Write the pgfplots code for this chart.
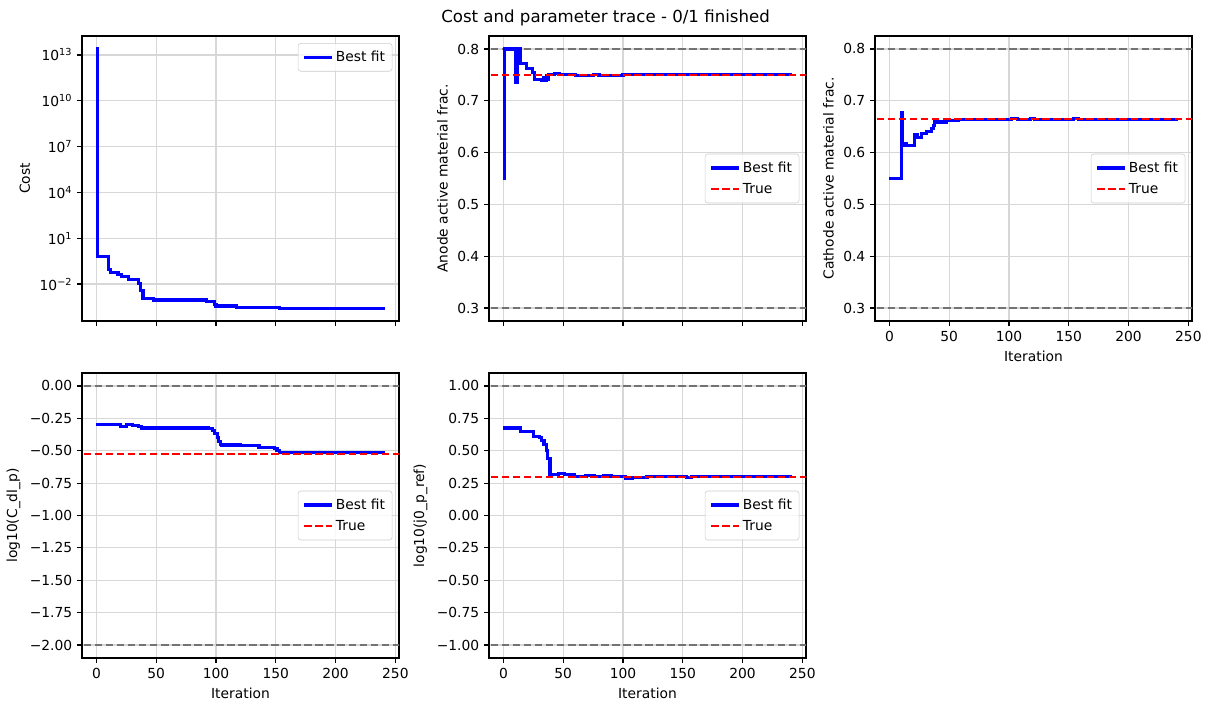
\documentclass[border=0pt]{standalone}
\usepackage{fontspec}
\setmainfont{DejaVu Sans}
\usepackage{pgfplots}
\pgfplotsset{compat=1.18}
\definecolor{gridc}{RGB}{215,215,215}
\definecolor{boundc}{RGB}{115,115,115}
\definecolor{legc}{RGB}{204,204,204}
\definecolor{bluefit}{RGB}{0,0,255}
\definecolor{truec}{RGB}{255,0,0}
\pgfplotsset{
  panel/.style={
    scale only axis, width=228.24bp, height=205.2bp,
    xmin=-12.05, xmax=253.05,
    axis line style={line width=0.8bp},
    tick align=outside, major tick length=3.5bp,
    xtick pos=bottom, ytick pos=left,
    every tick/.style={black, line width=0.8bp},
    grid=major, major grid style={gridc, line width=0.8bp},
    xtick={0,50,100,150,200,250},
    tick label style={font=\fontsize{10}{12}\selectfont},
    label style={font=\fontsize{10}{12}\selectfont},
    /pgf/number format/assume math mode=true,
    legend cell align=left,
    legend style={at={(0.979,0.5)}, anchor=east, draw=legc, rounded corners=2bp,
      fill=white, fill opacity=0.8, text opacity=1, draw opacity=1,
      font=\fontsize{10}{12}\selectfont, inner xsep=3bp, inner ysep=3.5bp, row sep=2.5bp},
    legend image code/.code={\draw[##1] (0bp,0bp) -- (20bp,0bp);},
  },
  bestfit/.style={bluefit, line width=2.3bp, const plot},
  truel/.style={truec, line width=1.5bp, dash pattern=on 5.55bp off 2.4bp},
  bound/.style={boundc, line width=1.5bp, dash pattern=on 5.55bp off 2.4bp, forget plot},
}
\begin{document}
\begin{tikzpicture}
% ---- Cost ----
\begin{axis}[panel, at={(59.04bp,-231.12bp)}, anchor=south west,
  ymode=log, ymin=3.8e-5, ymax=1.74e14,
  ytick={1e-2,1e1,1e4,1e7,1e10,1e13},
  yticklabels={10\textsuperscript{−2},10\textsuperscript{1},10\textsuperscript{4},10\textsuperscript{7},10\textsuperscript{10},10\textsuperscript{13}},
  yminorticks=false,
  xticklabels={},
  ylabel={Cost},
  legend style={at={(0.979,0.975)}, anchor=north east}]
\addplot[bestfit] coordinates {
(0,2.5e13) (1,0.61) (10,0.091) (12,0.055) (18,0.041) (21,0.030) (27,0.0204)
(35,0.011) (37,0.004) (39,0.00115) (48,0.00089) (92,0.00069) (99,0.00047)
(100,0.00036) (117,0.000295) (153,0.000257) (241,0.000257)};
\addlegendentry{Best fit}
\end{axis}
% ---- Anode ----
\begin{axis}[panel, at={(352.08bp,-231.12bp)}, anchor=south west,
  ymin=0.275, ymax=0.825,
  ytick={0.3,0.4,0.5,0.6,0.7,0.8},
  yticklabels={0.3,0.4,0.5,0.6,0.7,0.8},
  xticklabels={},
  ylabel={Anode active material frac.}]
\addplot[bound] coordinates {(-20,0.8) (260,0.8)};
\addplot[bound] coordinates {(-20,0.3) (260,0.3)};
\addplot[bestfit] coordinates {
(0,0.55) (1,0.80) (10,0.735) (12,0.80) (14,0.772) (19,0.763) (24,0.755) (26,0.741)
(32,0.739) (34,0.745) (35,0.740) (36,0.748) (37,0.742) (38,0.751) (43,0.753)
(47,0.751) (60,0.749) (75,0.751) (80,0.749) (95,0.749) (100,0.751) (120,0.751)
(145,0.750) (150,0.751) (241,0.751)};
\addlegendentry{Best fit}
\addplot[truel] coordinates {(-20,0.75) (260,0.75)};
\addlegendentry{True}
\end{axis}
% ---- Cathode ----
\begin{axis}[panel, at={(630bp,-231.12bp)}, anchor=south west,
  ymin=0.275, ymax=0.825,
  ytick={0.3,0.4,0.5,0.6,0.7,0.8},
  yticklabels={0.3,0.4,0.5,0.6,0.7,0.8},
  xlabel={Iteration},
  ylabel={Cathode active material frac.}]
\addplot[bound] coordinates {(-20,0.8) (260,0.8)};
\addplot[bound] coordinates {(-20,0.3) (260,0.3)};
\addplot[bestfit] coordinates {
(0,0.55) (10,0.677) (11,0.614) (13,0.618) (14,0.614) (21,0.634) (23,0.629)
(27,0.637) (31,0.640) (35,0.647) (37,0.653) (38,0.659) (48,0.662) (58,0.664)
(102,0.666) (107,0.664) (118,0.666) (121,0.664) (154,0.666) (158,0.664) (241,0.664)};
\addlegendentry{Best fit}
\addplot[truel] coordinates {(-20,0.665) (260,0.665)};
\addlegendentry{True}
\end{axis}
% ---- C_dl_p ----
\begin{axis}[panel, at={(59.04bp,-473.76bp)}, anchor=south west,
  ymin=-2.1, ymax=0.1,
  ytick={-2,-1.75,-1.5,-1.25,-1,-0.75,-0.5,-0.25,0},
  yticklabels={−2.00,−1.75,−1.50,−1.25,−1.00,−0.75,−0.50,−0.25,0.00},
  xlabel={Iteration},
  ylabel={log10(C\_dl\_p)}]
\addplot[bound] coordinates {(-20,0) (260,0)};
\addplot[bound] coordinates {(-20,-2) (260,-2)};
\addplot[bestfit] coordinates {
(0,-0.30) (20,-0.31) (25,-0.30) (30,-0.305) (35,-0.315) (38,-0.325) (94,-0.33)
(97,-0.345) (99,-0.37) (101,-0.40) (102,-0.43) (104,-0.45) (105,-0.456)
(120,-0.462) (136,-0.472) (149,-0.485) (151,-0.50) (153,-0.512) (241,-0.512)};
\addlegendentry{Best fit}
\addplot[truel] coordinates {(-20,-0.523) (260,-0.523)};
\addlegendentry{True}
\end{axis}
% ---- j0_p_ref ----
\begin{axis}[panel, at={(352.08bp,-473.76bp)}, anchor=south west,
  ymin=-1.1, ymax=1.1,
  ytick={-1,-0.75,-0.5,-0.25,0,0.25,0.5,0.75,1},
  yticklabels={−1.00,−0.75,−0.50,−0.25,0.00,0.25,0.50,0.75,1.00},
  xlabel={Iteration},
  ylabel={log10(j0\_p\_ref)}]
\addplot[bound] coordinates {(-20,1) (260,1)};
\addplot[bound] coordinates {(-20,-1) (260,-1)};
\addplot[bestfit] coordinates {
(0,0.675) (14,0.647) (25,0.61) (30,0.60) (32,0.58) (34,0.55) (36,0.50) (37,0.44)
(39,0.317) (46,0.322) (51,0.315) (59,0.302) (69,0.307) (76,0.302) (84,0.306)
(90,0.30) (102,0.288) (108,0.293) (120,0.30) (153,0.295) (157,0.30) (241,0.30)};
\addlegendentry{Best fit}
\addplot[truel] coordinates {(-20,0.30) (260,0.30)};
\addlegendentry{True}
\end{axis}
\node[font=\fontsize{12}{14}\selectfont] at (436bp,-12.96bp) {Cost and parameter trace - 0/1 finished};
\pgfresetboundingbox
\path (0,0) rectangle (871.92bp,-511.92bp);
\end{tikzpicture}
\end{document}
